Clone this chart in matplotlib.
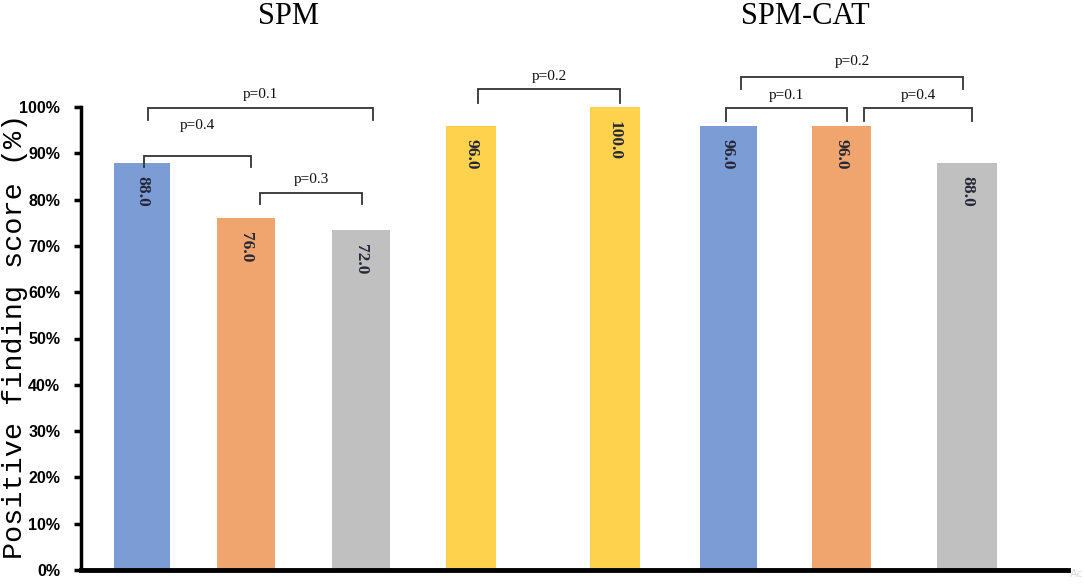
import matplotlib
matplotlib.use("Agg")
import matplotlib.pyplot as plt

# ---- data ----
groups = ["SPM", "SPM-CAT"]
bar_values = [88.0, 76.0, 73.5, 96.0, 100.0, 96.0, 96.0, 88.0]
bar_labels = ["88.0", "76.0", "72.0", "96.0", "100.0", "96.0", "96.0", "88.0"]
bar_colors = ["#7B9CD5", "#F0A46E", "#C0C0C0", "#FFD24D",
              "#FFD24D", "#7B9CD5", "#F0A46E", "#C0C0C0"]
yticks = [0, 10, 20, 30, 40, 50, 60, 70, 80, 90, 100]
ytick_labels = [f"{t}%" for t in yticks]
p_labels = ["p=0.1", "p=0.4", "p=0.3", "p=0.2", "p=0.2", "p=0.1", "p=0.4"]

# ---- layout ----
W, H, DPI = 1084, 585, 100
fig = plt.figure(figsize=(W / DPI, H / DPI), dpi=DPI)
ax_left, ax_right, ax_bot = 81, 1068, 570
ppu = 4.63  # pixels per percent
ytop = ax_bot / ppu
ax = fig.add_axes([ax_left / W, (H - ax_bot) / H, (ax_right - ax_left) / W, ax_bot / H])
ax.set_xlim(ax_left, ax_right)
ax.set_ylim(0, ytop)

xpos = [142, 246, 361, 471, 615, 728, 841, 967]
widths = [56, 58, 58, 50, 50, 57, 59, 60]
bars = ax.bar(xpos, bar_values, width=widths, color=bar_colors, zorder=2)

for b, lab in zip(bars, bar_labels):
    ax.text(b.get_x() + b.get_width() / 2, b.get_height() - 3.0, lab,
            rotation=-90, ha="center", va="top", fontsize=12.5,
            family="Liberation Serif", fontweight="bold", color="#262838", zorder=3)

# spines / ticks
for s in ["top", "right"]:
    ax.spines[s].set_visible(False)
ax.spines["left"].set_linewidth(2.5)
ax.spines["left"].set_bounds(0, 100)
ax.spines["bottom"].set_linewidth(3.5)
ax.set_xticks([])
ax.set_yticks(yticks)
ax.set_yticklabels(ytick_labels)
ax.tick_params(axis="y", length=5, width=2.5, pad=10, labelsize=11.5)
for t in ax.get_yticklabels():
    t.set_family(["Liberation Sans Narrow", "Liberation Sans", "DejaVu Sans"])
    t.set_fontweight("bold")
    t.set_fontstretch("condensed")

ax.set_ylabel("Positive finding score (%)", family=["Liberation Mono"], fontsize=20.5)
ax.yaxis.set_label_coords(-0.054, 50.5 / ytop)

# group titles
fig.text(289 / W, 1 - 16 / H, groups[0], ha="center", va="center",
         family="Liberation Serif", fontsize=22)
fig.text(805 / W, 1 - 16 / H, groups[1], ha="center", va="center",
         family="Liberation Serif", fontsize=22)

# significance brackets: (x1, x2, y_line, y_end, y_text)
brackets = [
    (148, 373, 99.8, 97.2, 102.6),
    (144, 251, 89.4, 87.0, 96.1),
    (260, 362, 81.4, 79.0, 84.4),
    (478, 620, 103.9, 100.9, 106.5),
    (741, 963, 106.5, 103.9, 109.9),
    (726, 847, 99.8, 97.0, 102.4),
    (864, 972, 99.8, 97.0, 102.4),
]
for (x1, x2, yl, ye, yt), pl in zip(brackets, p_labels):
    ax.plot([x1, x1, x2, x2], [ye, yl, yl, ye], color="#333333", lw=1.3,
            clip_on=False, zorder=4, solid_joinstyle="miter")
    ax.text((x1 + x2) / 2, yt, pl, ha="center", va="center", fontsize=11,
            family="Liberation Serif", color="#111111")

fig.text(1070 / W, 1 - 574 / H, "Ac", fontsize=8, color="#DDDDDD",
         ha="left", va="center", family="DejaVu Sans")

fig.savefig("out.png", dpi=DPI)
